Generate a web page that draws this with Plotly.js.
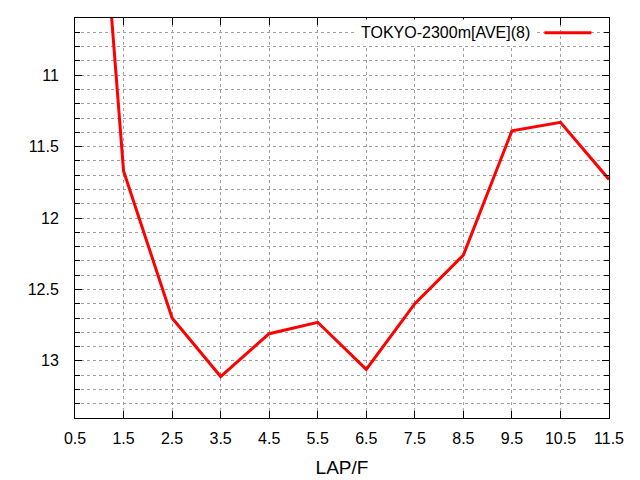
<!DOCTYPE html>
<html>
<head>
<meta charset="utf-8">
<script src="https://cdn.plot.ly/plotly-3.0.1.min.js"></script>
<style>body{margin:0;background:#fff}</style>
</head>
<body>
<div id="myDiv" style="width:640px;height:480px"></div>
<script>
var laps = [0.5, 1.5, 2.5, 3.5, 4.5, 5.5, 6.5, 7.5, 8.5, 9.5, 10.5, 11.5];
var times = [7.3, 11.67, 12.70, 13.11, 12.81, 12.73, 13.06, 12.60, 12.26, 11.39, 11.33, 11.73];
var seriesName = 'TOKYO-2300m[AVE](8)';

var trace1 = {
  x: laps,
  y: times,
  name: seriesName,
  type: 'scatter',
  mode: 'lines',
  line: {color: '#ff0000', width: 3},
  showlegend: false
};

var gridDash = '3px,3px';
var layout = {
  width: 640,
  height: 480,
  margin: {l: 75, r: 31, t: 18, b: 62},
  paper_bgcolor: '#fff',
  plot_bgcolor: '#fff',
  font: {family: 'Liberation Sans, Arial, sans-serif', size: 16, color: '#000'},
  xaxis: {
    range: [0.5, 11.5],
    tick0: 0.5,
    dtick: 1,
    ticks: 'inside',
    ticklen: 7,
    tickcolor: '#000',
    showline: true,
    linecolor: '#000',
    linewidth: 1,
    mirror: 'ticks',
    showgrid: true,
    gridcolor: '#a0a0a0',
    griddash: gridDash,
    zeroline: false,
    ticklabelstandoff: 6,
    title: {text: 'LAP/F', standoff: 14}
  },
  yaxis: {
    range: [13.4, 10.6],
    tick0: 11,
    dtick: 0.5,
    ticks: 'inside',
    ticklen: 7,
    tickcolor: '#000',
    showline: true,
    linecolor: '#000',
    linewidth: 1,
    mirror: 'ticks',
    showgrid: true,
    gridcolor: '#a0a0a0',
    griddash: gridDash,
    zeroline: false,
    ticklabelstandoff: 12,
    minor: {
      dtick: 0.1,
      ticks: 'inside',
      ticklen: 5,
      tickcolor: '#000',
      showgrid: true,
      gridcolor: '#a0a0a0',
      griddash: gridDash
    }
  },
  annotations: [{
    xref: 'paper', yref: 'paper',
    x: 0.861, y: 0.963,
    xanchor: 'right', yanchor: 'middle',
    text: seriesName,
    showarrow: false,
    bgcolor: '#fff',
    borderpad: 4,
    font: {size: 16}
  }],
  shapes: [
    {type: 'rect', xref: 'paper', yref: 'paper', x0: 0.86, x1: 0.985, y0: 0.935, y1: 0.99,
     fillcolor: '#fff', line: {width: 0}, layer: 'below'},
    {type: 'line', xref: 'paper', yref: 'paper', x0: 0.879, x1: 0.967, y0: 0.963, y1: 0.963,
     line: {color: '#ff0000', width: 3}}
  ]
};

Plotly.newPlot('myDiv', [trace1], layout, {displayModeBar: false});
</script>
</body>
</html>
